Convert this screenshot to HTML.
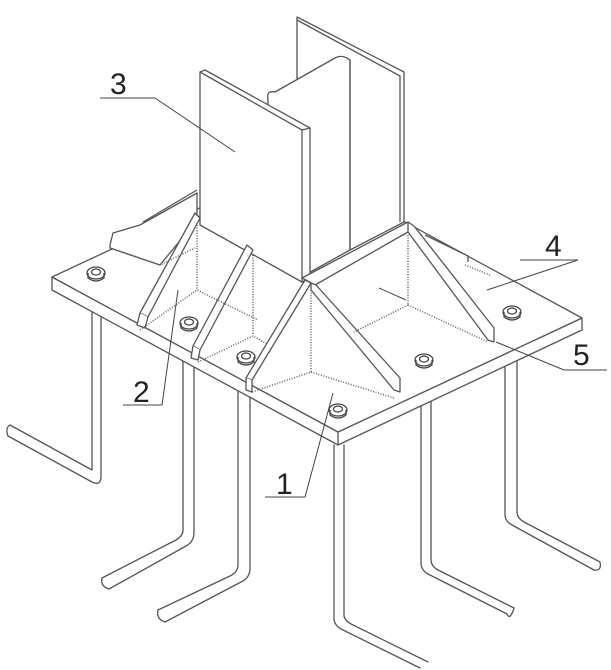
<!DOCTYPE html>
<html><head><style>
html,body{margin:0;padding:0;background:#fff;}
svg{display:block;}
text{font-family:"Liberation Sans",sans-serif;font-size:30px;fill:#222;}
</style></head><body>
<svg width="611" height="670" viewBox="0 0 611 670" xmlns="http://www.w3.org/2000/svg">
<g fill="none" stroke="#555" stroke-width="1.3" stroke-linejoin="round" stroke-linecap="round">
<!-- Rods -->
<path d="M92 290 V470 L10 425 M101 290 V478 Q100 486 92 482 L8 436"/>
<path d="M10 425 Q5 428 8 436"/>
<path d="M183 335 V530 Q183 536 176 540 L102 578 M194 335 V532 Q194 542 186 546 L109 589"/>
<path d="M102 578 Q100 586 109 589"/>
<path d="M238 365 V565 Q238 572 230 576 L158 610 M250 365 V568 Q250 578 241 582 L165 622"/>
<path d="M158 610 Q156 619 165 622"/>
<path d="M334 445 V618 Q334 625 341 629 L420 668 M344 445 V615 Q344 620 351 624 L428 662"/>
<path d="M421 405 V563 Q421 570 428 574 L507 614 M431 400 V560 Q431 566 438 570 L514 608"/>
<path d="M507 614 Q510 621 514 608"/>
<path d="M505 330 V515 Q505 521 512 525 L594 570 M517 325 V512 Q517 518 524 522 L600 562"/>
<path d="M594 570 Q602 571 600 562"/>
</g>
<!-- Plate -->
<g stroke="#555" stroke-width="1.3" stroke-linejoin="round">
<path d="M52 277 L338 432 L582 318 L582 330 L338 445 L52 290 Z" fill="#fff"/>
<path d="M52 277 L296 163 L582 318 L338 432 Z" fill="#fff"/>
<path d="M338 432 V445" fill="none"/>
</g>
<g fill="#fff" stroke="#555" stroke-width="1.3" stroke-linejoin="round">
<!-- rear left stiffener -->
<path d="M110 245 L113 233 L140 225 L197 193 L197 220 L160 265 L110 248 Z"/>
<path d="M143 222 L197 190"/>
<!-- column rear flange -->
<path d="M297 17 L404 72 L404 222 L350 250 L297 230 Z"/>
<path d="M297 20 L400 76 L400 222"/>
<!-- web -->
<path d="M268 100 Q266 90 275 92 L335 58 Q342 54 350 60 L350 250 L305 275 L268 255 Z"/>
<path d="M350 60 V250"/>
<!-- front flange 3 -->
<path d="M200 72 L205 70 L310 128 L310 278 L302 282 L200 225 Z"/>
<path d="M200 72 L302 130 L302 282 M302 130 L310 128"/>
<!-- stiffener 2 -->
<path d="M195 213 L200 218 L148 317 L140 313 Z"/>
<path d="M140 313 L137 325 L145 328 L148 317"/>
<!-- middle stiffener -->
<path d="M247 245 L253 250 L200 350 L193 346 Z"/>
<path d="M193 346 L191 358 L198 360 L200 350"/>
<!-- right stiffener with top -->
<path d="M302 278 L408 222 L414 226 L494 328 L494 342 L488 340 L408 232 L315 285 Z"/>
<path d="M408 222 L408 232"/>
<path d="M425 235 L468 256 L468 262"/>
<!-- stiffener 1 -->
<path d="M305 280 L311 283 L252 380 L246 378 Z"/>
<path d="M311 283 L316 285 L400 378 L400 392 L394 390 L311 290 Z"/>
<path d="M246 378 L246 390 L252 392 L252 380"/>
</g>
<!-- weld lines -->
<g fill="none" stroke="#666" stroke-width="1.6" stroke-dasharray="1 1.6">
<path d="M110 248 L160 265 L195 248 M197 225 V290 M140 330 L197 290 L258 320 M253 255 V335 M198 362 L253 336 L267 344"/>
<path d="M311 290 V372 L252 392 M311 372 L394 398"/>
<path d="M408 235 V305 L354 332 M408 305 L488 342 M465 265 L490 275"/>
</g>
<!-- Bolts -->
<g fill="#fff" stroke="#444" stroke-width="1.3">
<g transform="translate(96,273)"><ellipse rx="9" ry="6"/><path d="M-8 0 V5 Q0 11 8 5 V0" fill="none"/><ellipse rx="4.5" ry="3" cy="-1"/></g>
<g transform="translate(189,323)"><ellipse rx="9" ry="6"/><path d="M-8 0 V5 Q0 11 8 5 V0" fill="none"/><ellipse rx="4.5" ry="3" cy="-1"/></g>
<g transform="translate(246,357)"><ellipse rx="9" ry="6"/><path d="M-8 0 V5 Q0 11 8 5 V0" fill="none"/><ellipse rx="4.5" ry="3" cy="-1"/></g>
<g transform="translate(338,410)"><ellipse rx="9" ry="6"/><path d="M-8 0 V5 Q0 11 8 5 V0" fill="none"/><ellipse rx="4.5" ry="3" cy="-1"/></g>
<g transform="translate(424,360)"><ellipse rx="9" ry="6"/><path d="M-8 0 V5 Q0 11 8 5 V0" fill="none"/><ellipse rx="4.5" ry="3" cy="-1"/></g>
<g transform="translate(512,312)"><ellipse rx="9" ry="6"/><path d="M-8 0 V5 Q0 11 8 5 V0" fill="none"/><ellipse rx="4.5" ry="3" cy="-1"/></g>
</g>
<!-- Leaders -->
<g fill="none" stroke="#444" stroke-width="1">
<path d="M100 98 H155 L235 152"/>
<path d="M123 405 H162 L178 290"/>
<path d="M520 260 H578 L487 290"/>
<path d="M564 370 H607 M564 370 L496 342 M379 288 L406 300"/>
<path d="M265 497 H305 L333 393"/>
</g>
<text x="110" y="94">3</text>
<text x="133" y="402">2</text>
<text x="545" y="256">4</text>
<text x="573" y="365">5</text>
<text x="276" y="494">1</text>
</svg>
</body></html>
